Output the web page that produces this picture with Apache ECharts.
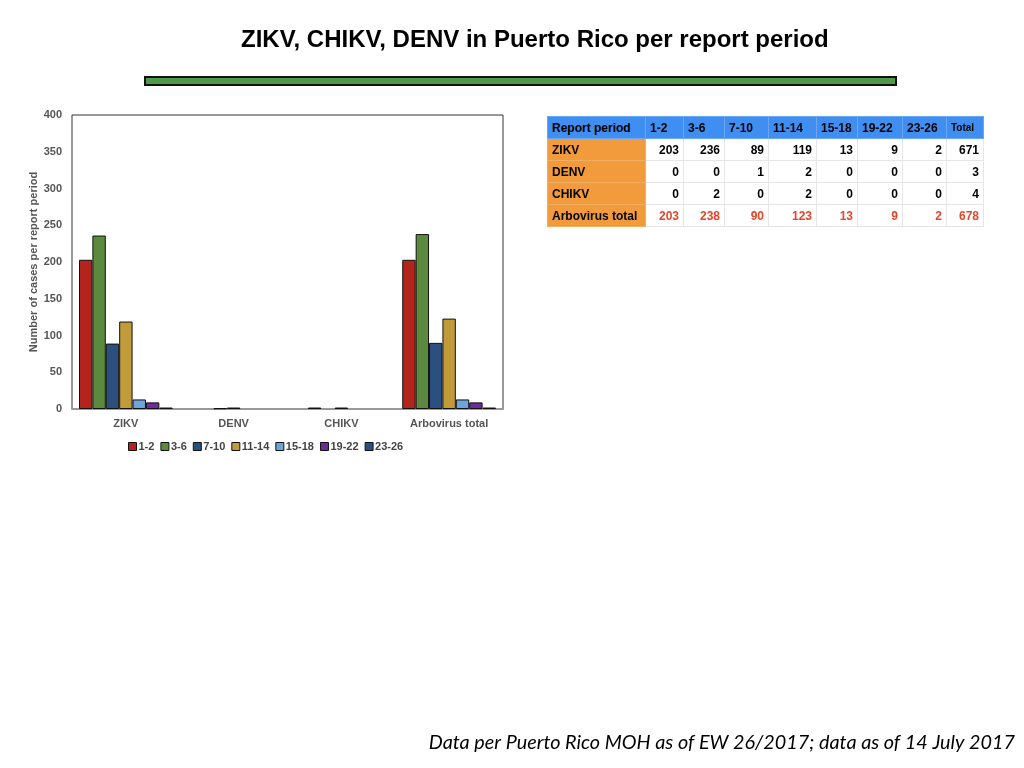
<!DOCTYPE html>
<html><head><meta charset="utf-8">
<script src="https://cdn.jsdelivr.net/npm/echarts@6/dist/echarts.min.js"></script>
<style>
html,body{margin:0;padding:0;background:#fff;}
#c{width:1024px;height:768px;position:absolute;left:0;top:0;}
#t{position:absolute;left:547px;top:116px;border-collapse:collapse;table-layout:fixed;font-family:"Liberation Sans",Arial,sans-serif;font-weight:bold;font-size:12px;}
#t td{box-sizing:border-box;padding:0 4px;height:22px;border:1px solid #e6e6e6;text-align:right;white-space:nowrap;overflow:hidden;}
#t tr:first-child td{background:#3f8ef2;color:#000;text-align:left;border-color:#6aa8f5;}
#t td.lab{background:#f19b3c;text-align:left;border-color:#f3ad60;}
#t td.red{color:#e5452b;}
</style></head><body>
<div id="c"></div>
<table id="t"></table>
<script>
var categories = ['ZIKV','DENV','CHIKV','Arbovirus total'];
var periods = ['1-2','3-6','7-10','11-14','15-18','19-22','23-26'];
var zikv = [203,236,89,119,13,9,2];
var denv = [0,0,1,2,0,0,0];
var chikv = [0,2,0,2,0,0,0];
var arbo = [203,238,90,123,13,9,2];
var totals = [671,3,4,678];
var yTicks = [0,50,100,150,200,250,300,350,400];
var colors = ['#b3241c','#5b8a3e','#2b4f7e','#c19a3a','#6ea4dc','#6a2e98','#2b4f7e'];

var rows = [zikv,denv,chikv,arbo];
var series = periods.map(function(p,i){
  return {name:p,type:'bar',
    data:rows.map(function(r){var v=r[i];return v===0?{value:v,itemStyle:{borderWidth:0}}:v;}),
    itemStyle:{color:colors[i],borderColor:'#111',borderWidth:1},barGap:'0%',barCategoryGap:'13%'};
});

var chart = echarts.init(document.getElementById('c'));
chart.setOption({
  animation:false,
  title:{text:'ZIKV, CHIKV, DENV in Puerto Rico per report period',left:236,top:23,
    textStyle:{fontFamily:'Liberation Sans',fontWeight:'bold',fontSize:24,color:'#000'}},
  grid:{left:72,right:521,top:115,bottom:359,show:true,borderColor:'#333',borderWidth:1,backgroundColor:'#fff'},
  legend:{left:123,top:436,itemWidth:8,itemHeight:8,itemGap:6,icon:'rect',
    itemStyle:{borderColor:'#111',borderWidth:1},
    textStyle:{fontFamily:'Liberation Sans',fontWeight:'bold',fontSize:11,color:'#444',padding:[0,0,0,-3]}},
  xAxis:{type:'category',data:categories,axisTick:{show:false},
    axisLine:{lineStyle:{color:'#999',width:2}},
    axisLabel:{fontFamily:'Liberation Sans',fontWeight:'bold',fontSize:11,color:'#555',margin:9}},
  yAxis:{type:'value',min:yTicks[0],max:yTicks[yTicks.length-1],interval:50,
    name:'Number of cases per report period',nameLocation:'middle',nameGap:27,nameRotate:90,
    nameTextStyle:{fontFamily:'Liberation Sans',fontWeight:'bold',fontSize:11,color:'#555'},
    splitLine:{show:false},axisLine:{show:false},axisTick:{show:false},
    axisLabel:{fontFamily:'Liberation Sans',fontWeight:'bold',fontSize:11,color:'#555',margin:10}},
  graphic:[
    {type:'rect',shape:{x:145,y:77,width:751,height:8},style:{fill:'#4f9a4a',stroke:'#111',lineWidth:2}},
    {type:'text',right:9,top:733,style:{text:'Data per Puerto Rico MOH as of EW 26/2017; data as of 14 July 2017',
      font:'italic 19.8px Lato',fill:'#000'}}
  ],
  series:series
});

var t = document.getElementById('t');
var widths = [98,38,41,44,48,41,45,44,37];
var h = '<colgroup>'+widths.map(function(w){return '<col style="width:'+w+'px">';}).join('')+'</colgroup>';
h += '<tr><td>Report period</td>';
periods.forEach(function(p){h+='<td>'+p+'</td>';});
h += '<td style="font-size:10px">Total</td></tr>';
categories.forEach(function(c,ri){
  var red = ri===3 ? ' class="red"' : '';
  h += '<tr><td class="lab">'+c+'</td>';
  rows[ri].forEach(function(v){h+='<td'+red+'>'+v+'</td>';});
  h += '<td'+red+'>'+totals[ri]+'</td></tr>';
});
t.innerHTML = h;
</script>
</body></html>
